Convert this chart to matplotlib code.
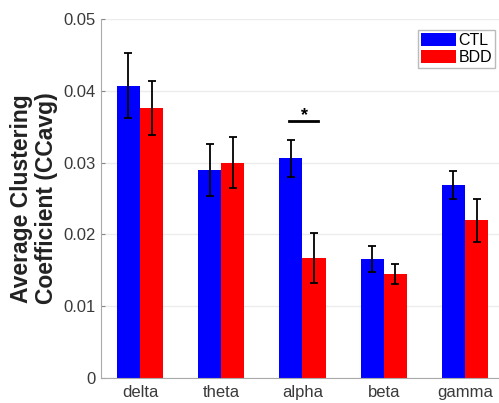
import numpy as np
import matplotlib.pyplot as plt

plt.rcParams['font.family'] = ['Liberation Sans', 'DejaVu Sans']

bands = ['delta', 'theta', 'alpha', 'beta', 'gamma']
ctl = [0.0407, 0.0290, 0.0306, 0.0166, 0.0269]
ctl_err = [0.0045, 0.0036, 0.0026, 0.0018, 0.0019]
bdd = [0.0376, 0.0300, 0.0167, 0.0145, 0.0220]
bdd_err = [0.0038, 0.0036, 0.0035, 0.0014, 0.0030]
yticks = [0, 0.01, 0.02, 0.03, 0.04, 0.05]
ytick_labels = ['0', '0.01', '0.02', '0.03', '0.04', '0.05']

fig = plt.figure(figsize=(4.99, 4.03), dpi=100)
ax = fig.add_axes([101/499, 1 - 378/403, 1 - 101/499 + 0.005, (378 - 19)/403])

x = np.arange(1, len(bands) + 1)
w = 0.285
ax.bar(x - w/2, ctl, w, color='#0000ff', label='CTL', zorder=2)
ax.bar(x + w/2, bdd, w, color='#ff0000', label='BDD', zorder=2)
ax.errorbar(x - w/2, ctl, yerr=ctl_err, fmt='none', ecolor='black',
            elinewidth=1.3, capsize=3, capthick=1.3, zorder=3)
ax.errorbar(x + w/2, bdd, yerr=bdd_err, fmt='none', ecolor='black',
            elinewidth=1.3, capsize=3, capthick=1.3, zorder=3)

# significance marker over alpha
ax.plot([2.83, 3.19], [0.0358, 0.0358], color='black', lw=2, zorder=3)
ax.text(3.02, 0.0354, '*', ha='center', va='bottom', fontsize=13, fontweight='bold')

ax.set_xlim(0.52, 5.45)
ax.set_ylim(0, 0.05)
ax.set_xticks(x)
ax.set_xticklabels(bands)
ax.set_yticks(yticks)
ax.set_yticklabels(ytick_labels)
ax.tick_params(axis='both', direction='in', length=3, color='#888888',
               labelcolor='#3a3a3a', labelsize=12)
ax.tick_params(axis='x', length=0, pad=5)
ax.tick_params(axis='y', pad=4)
ax.yaxis.grid(True, color='#ececec', lw=1, zorder=0)
ax.set_axisbelow(True)
ax.spines['right'].set_color('none')
ax.spines['top'].set_color('none')
ax.spines['left'].set_color('#aaaaaa')
ax.spines['bottom'].set_color('#aaaaaa')

ax.set_ylabel('Average Clustering\nCoefficient (CCavg)', fontsize=16.5,
              fontweight='bold', color='#222222', labelpad=4, linespacing=1.1)

leg = ax.legend(loc='upper right', bbox_to_anchor=(0.985, 0.97), fontsize=11.5,
                fancybox=False, edgecolor='#aaaaaa', handlelength=2.2,
                handleheight=0.9, handletextpad=0.15, borderpad=0.2,
                labelspacing=0.1, borderaxespad=0)
leg.get_frame().set_linewidth(1)

fig.savefig('out.png', dpi=100)
